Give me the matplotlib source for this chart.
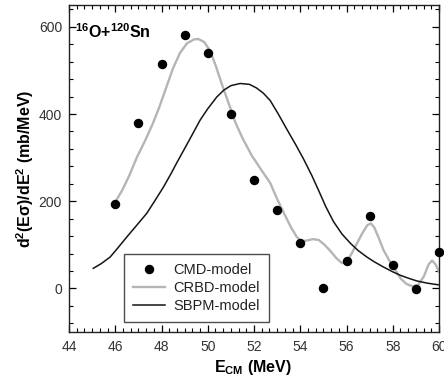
import matplotlib
matplotlib.use("Agg")
import matplotlib.pyplot as plt
from matplotlib.ticker import MultipleLocator, AutoMinorLocator

plt.rcParams['font.family'] = ['Liberation Sans', 'DejaVu Sans']
plt.rcParams['mathtext.fontset'] = 'custom'
plt.rcParams['mathtext.rm'] = 'Liberation Sans'
plt.rcParams['mathtext.bf'] = 'Liberation Sans:bold'
plt.rcParams['mathtext.it'] = 'Liberation Sans:italic'

# CMD-model points
cmd_x = [46, 47, 48, 49, 50, 51, 52, 53, 54, 55, 56, 57, 58, 59, 60]
cmd_y = [193, 379, 515, 582, 541, 401, 248, 179, 105, 1, 63, 166, 54, -2, 83]

# CRBD-model curve
crbd_x = [46.0, 46.3, 46.6, 46.93, 47.3, 47.6, 47.9, 48.2, 48.5, 48.8, 49.1,
          49.4, 49.6, 49.85, 50.1, 50.35, 50.6, 50.9, 51.2, 51.5, 51.9, 52.3,
          52.7, 53.0, 53.3, 53.6, 53.85, 54.05, 54.3, 54.55, 54.8, 55.05, 55.3,
          55.55, 55.8, 56.0, 56.2, 56.45, 56.7, 56.9, 57.05, 57.2, 57.4, 57.6,
          57.85, 58.1, 58.35, 58.6, 58.85, 59.1, 59.35, 59.55, 59.7, 59.85, 60.0]
crbd_y = [198, 225, 258, 300, 340, 375, 415, 460, 505, 540, 562,
          571, 572, 565, 545, 510, 470, 425, 380, 345, 305, 273,
          242, 205, 172, 140, 118, 108, 110, 113, 111, 100, 86,
          70, 58, 60, 78, 103, 128, 145, 149, 140, 115, 88,
          64, 43, 22, 10, 5, 8, 28, 55, 64, 55, 38]

# SBPM-model curve
sbpm_x = [45.05, 45.4, 45.78, 46.1, 46.5, 46.9, 47.36, 47.7, 48.08, 48.4,
          48.66, 49.2, 49.67, 50.0, 50.39, 50.7, 51.0, 51.4, 51.8, 52.1,
          52.4, 52.7, 53.05, 53.42, 53.8, 54.14, 54.5, 54.8, 55.1, 55.44,
          55.8, 56.16, 56.5, 56.88, 57.2, 57.6, 58.0, 58.33, 58.7, 59.05,
          59.5, 60.0]
sbpm_y = [46, 57, 72, 92, 118, 143, 172, 200, 232, 262,
          288, 340, 386, 412, 439, 455, 465, 470, 468, 460,
          448, 431, 400, 365, 330, 297, 259, 224, 188, 153,
          125, 104, 87, 72, 61, 49, 38, 30, 23, 17,
          12, 8]

fig = plt.figure(figsize=(4.44, 3.82), dpi=100)
ax = fig.add_axes([69/444, 1-332/382, 370/444, 327/382])

ax.plot(cmd_x, cmd_y, 'o', color='black', ms=5.8, label='CMD-model', zorder=3, clip_on=False)
ax.plot(crbd_x, crbd_y, '-', color='#b5b5b5', lw=1.7, label='CRBD-model', zorder=2)
ax.plot(sbpm_x, sbpm_y, '-', color='#151515', lw=1.1, label='SBPM-model', zorder=2)

ax.set_xlim(44, 60)
ax.set_ylim(-100, 650)
ax.xaxis.set_major_locator(MultipleLocator(2))
ax.xaxis.set_minor_locator(AutoMinorLocator(6))
ax.yaxis.set_major_locator(MultipleLocator(200))
ax.yaxis.set_minor_locator(AutoMinorLocator(5))
ax.set_yticks([0, 200, 400, 600])

ax.tick_params(which='both', direction='in', top=True, right=True, labelcolor='#333333')
ax.tick_params(which='major', length=5, width=0.9, labelsize=10)
ax.tick_params(which='minor', length=3, width=0.8)
ax.tick_params(axis='x', pad=6)
ax.tick_params(axis='y', pad=5)
for s in ax.spines.values():
    s.set_linewidth(1.0)
    s.set_color('#222222')

ax.set_xlabel(r'$\mathbf{E_{CM}}$ (MeV)', fontsize=11.5, fontweight='bold')
ax.xaxis.set_label_coords(0.497, -0.078)
ax.set_ylabel(r'$\mathbf{d^2(E\sigma)/dE^2}$ (mb/MeV)', fontsize=11.5, fontweight='bold')
ax.yaxis.set_label_coords(-0.09, 0.5)

ax.text(0.016, 0.899, r'$\mathbf{^{16}O{+}^{120}Sn}$', transform=ax.transAxes,
        fontsize=11.5, ha='left', va='baseline')

leg = ax.legend(loc='lower left', bbox_to_anchor=(0.1486, 0.0306), borderaxespad=0,
                fontsize=10.5, frameon=True, fancybox=False, edgecolor='#222222',
                handlelength=2.2, labelspacing=0.28, borderpad=0.62, handletextpad=0.55,
                markerscale=1.0)
leg.get_frame().set_linewidth(1.0)
for t in leg.get_texts():
    t.set_color('#222222')

fig.savefig('out.png', dpi=100)
